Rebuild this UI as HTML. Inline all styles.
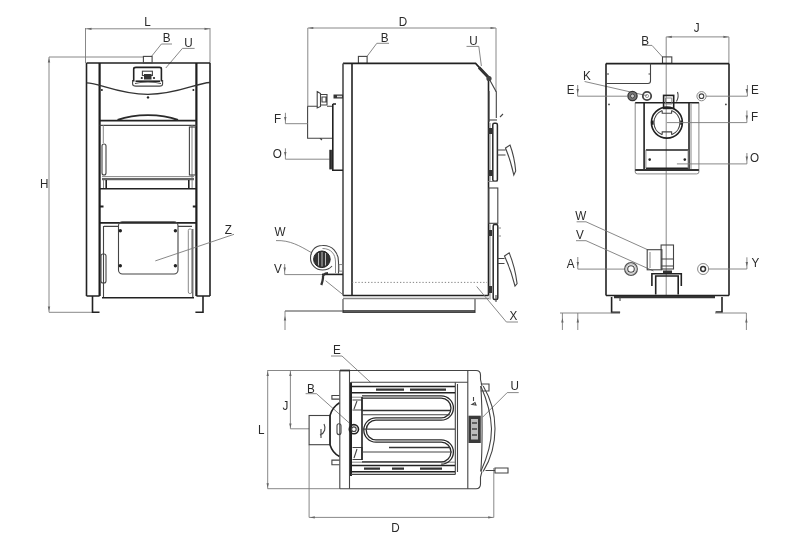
<!DOCTYPE html>
<html><head><meta charset="utf-8"><style>
html,body{margin:0;padding:0;background:#fff;width:800px;height:549px;overflow:hidden}
svg{display:block;filter:blur(0.35px)}
text{font-family:"Liberation Sans",sans-serif;font-size:13px;fill:#2a2a2a;text-anchor:middle;dominant-baseline:central}
.k{stroke:#222;stroke-width:1.6;fill:none}
.m{stroke:#444;stroke-width:1.1;fill:none}
.g{stroke:#7a7a7a;stroke-width:0.9;fill:none}
.d{stroke:#666;stroke-width:0.9;fill:none}
</style></head><body>
<svg width="800" height="549" viewBox="0 0 800 549">
<!-- ============ FRONT VIEW ============ -->
<g id="front">
<!-- dims -->
<path class="g" d="M85.5,28.8H210M85.5,28V63M210,28V63"/>
<text transform="translate(147.5,22) scale(0.9,1)">L</text>
<path class="g" d="M49,57H143M49,57V312.3H92"/>
<text transform="translate(44.3,184) scale(0.9,1)">H</text>
<path class="g" d="M151,57L161.4,44H172M165.8,68L182.4,48.4H194.6"/>
<text transform="translate(166.6,37.5) scale(0.9,1)">B</text>
<text transform="translate(188.5,42.5) scale(0.9,1)">U</text>
<!-- body -->
<path class="k" d="M86.5,63H210M86.5,63V296M210,63V296M86.5,296H99.6M196.4,296H210"/><path d="M99.6,63V296M196.4,63V296" stroke="#1e1e1e" stroke-width="2.2" fill="none"/>
<rect class="m" x="143.4" y="56.4" width="8.7" height="6.6"/>
<path d="M86.5,82.8C100,83 118,94.3 148,94.3C178,94.3 196,83 210,82.5" stroke="#333" stroke-width="1.3" fill="none"/>
<path class="m" d="M132.6,80V84Q132.6,86.1 136,86.1H159.5Q162.6,86.1 162.6,84V80"/>
<path class="k" d="M133.7,81.5V69Q133.7,67.4 136,67.4H159.5Q161.4,67.4 161.4,69V81.5"/>
<path class="k" d="M135.5,81.2H160" />
<path class="m" d="M135,83.5Q148,80.5 161,83.5"/>
<rect class="m" x="142.4" y="71.2" width="10" height="4.3"/>
<path d="M144,74V79.5H151.5V74" fill="#333" stroke="none"/>
<circle cx="141.8" cy="78" r="1.1" fill="#222"/><circle cx="154" cy="78" r="1.1" fill="#222"/>
<!-- upper door -->
<path class="k" d="M99.6,120.6H196.4"/>
<path class="m" d="M99.6,125.4H196.4"/><path d="M117.6,120C135,113.5 161,113.5 178,120" stroke="#2a2a2a" stroke-width="1.9" fill="none"/>
<path d="M102,179.2H194" stroke="#666" stroke-width="2.2" fill="none"/>
<path class="g" d="M102,176.6H194"/>
<path class="g" d="M103.3,125V143M192,125V178"/>
<rect class="m" x="102" y="144" width="4" height="31" rx="2"/>
<rect class="m" x="189.4" y="127" width="6" height="48"/>
<path class="k" d="M106.2,180V188.7M188.8,180V188.7"/><path class="g" d="M103.5,180V188.7M192.1,180V188.7"/>
<path class="k" d="M99.6,188.7H196.4"/>
<!-- ash door -->
<path class="k" d="M99.6,222.9H196.4"/>
<path class="m" d="M104,226.4H118.5M178,226.4H192M103.5,226V297M192.8,229V297"/><rect class="g" x="188.3" y="229" width="3.5" height="64.5" rx="1.5"/>
<rect class="m" x="118.5" y="221.7" width="59.5" height="52.3" rx="4"/>
<rect class="m" x="101" y="254" width="5" height="29" rx="2"/>
<path class="k" d="M102,297.7H194"/>
<path class="k" d="M92.5,296V312.3H99.5M203,296V312.3H195.4"/>
<g fill="#222"><circle cx="120.3" cy="230.8" r="1.7"/><circle cx="175.4" cy="230.8" r="1.7"/><circle cx="120.3" cy="265.8" r="1.7"/><circle cx="175.4" cy="265.8" r="1.7"/>
<circle cx="148" cy="97.4" r="1.2"/><circle cx="101.9" cy="90" r="1"/><circle cx="193.4" cy="90" r="1"/><rect x="100" y="205.5" width="3.5" height="2"/><rect x="192.8" y="205.5" width="3.5" height="2"/></g>
<path class="g" d="M155.3,260.9L234,234.3"/>
<text transform="translate(228.3,229.6) scale(0.9,1)">Z</text>
</g>
<!-- ============ SIDE VIEW ============ -->
<g id="side">
<path class="g" d="M307.8,28H496M307.8,28V106.4M496,28V92"/>
<text transform="translate(403,21.4) scale(0.9,1)">D</text>
<path class="g" d="M367,56.4L376.8,43.3H389M466.5,46.4H478.8L481.4,66"/>
<text transform="translate(384.6,38) scale(0.9,1)">B</text>
<text transform="translate(473.5,40.6) scale(0.9,1)">U</text>
<rect class="m" x="358.4" y="56.4" width="8.7" height="7"/>
<path class="k" d="M343,63.4H475.6L488.4,77.4M352,63.4V295.5M343,295.5H488.6M488.5,80V295.5"/><path d="M343,63.4V295.5" stroke="#555" stroke-width="1.7" fill="none"/>
<path class="m" d="M488.4,77.4L496.3,92V118M489,91V122M343,299V312.5H475V299"/><path d="M343,298.5H489" stroke="#888" stroke-width="1.4" fill="none"/><path class="k" d="M343,311H475"/>
<path d="M352,282.4H487" stroke="#777" stroke-width="0.9" stroke-dasharray="1.3,1.9" fill="none"/>
<path d="M479,67.5L490,79" stroke="#333" stroke-width="3" fill="none"/><circle cx="489" cy="78.5" r="2.6" fill="#444"/><path class="m" d="M500,117L503,114"/>
<!-- flue box -->
<path class="m" d="M307.6,106.3H317.5M327,106.3H332.8M307.6,106.3V138.3H332.8M320,138.3L322,140"/>
<path class="k" d="M332.8,104V170.2H343M332.8,104H336"/>
<path class="m" d="M317.2,91.6L320.5,93.5V106.5L317.2,108ZM320.5,94.5H327V105H320.5M322,97H326V102H322Z"/>
<path d="M333.5,96.5H343" stroke="#333" stroke-width="4" fill="none"/>
<path d="M337,96.5H342" stroke="#ddd" stroke-width="1.6" fill="none"/>
<path class="g" d="M285.4,112.8V123.7H307.8M285.4,148.3V159.2H329.7"/>
<text transform="translate(277.7,118.3) scale(0.9,1)">F</text>
<text transform="translate(277.4,153.8) scale(0.9,1)">O</text>
<path d="M330.6,149.8V169.4" stroke="#2a2a2a" stroke-width="2.6" fill="none"/>
<!-- fan -->
<path class="g" d="M276,240.6C290,240 300,246 311,252.4M284.7,264V274.6H322"/>
<text transform="translate(280,232) scale(0.9,1)">W</text>
<text transform="translate(278,268.8) scale(0.9,1)">V</text>
<path class="m" d="M322.5,245.5C314,245.5 310.5,252 310.5,258C310.5,265 316,270 322.5,270C326,270 330,268.5 332,266M322.5,245.5C332,245 338.5,252 338.5,262V273.5"/>
<path class="g" d="M322.5,248.5C331,248.5 335.5,254 335.5,262V273"/>
<circle cx="321.9" cy="259.3" r="8.3" fill="#333" stroke="#222" stroke-width="1"/>
<path d="M318.5,253V265.5M322,252V266.5M325.5,253V265.5" stroke="#ddd" stroke-width="0.8" fill="none"/>
<rect class="g" x="339" y="264.6" width="4" height="6.5"/>
<path class="k" d="M322,274.4H343"/>
<path d="M328,273.2C324,273.5 322.5,275.5 323,278C322.8,280.5 322,283 321.3,285" stroke="#333" stroke-width="2.3" fill="none"/>
<path class="g" d="M325.6,280.7L342.4,294.2"/>
<!-- right side doors -->
<path class="m" d="M488,120H497"/>
<rect x="492.8" y="123.3" width="4.6" height="58" rx="1.5" fill="none" stroke="#2a2a2a" stroke-width="1.5"/>
<path class="g" d="M490,123V181M488,181.5H497"/>
<rect x="488" y="128" width="4" height="6" fill="#333"/><rect x="488" y="170" width="4" height="6" fill="#333"/>
<path class="m" d="M497.4,150H505.5M497.4,155H505.5M505.5,148L510,145Q514.5,157 515.7,171L513.8,175Q510.5,160 505.5,148Z"/>
<rect class="m" x="488.7" y="188" width="9.1" height="35.3"/>
<rect x="493.2" y="224.4" width="4.6" height="75.2" rx="1.5" fill="none" stroke="#2a2a2a" stroke-width="1.5"/>
<path class="g" d="M490,224.4V299.6M497.8,228H501M497.8,236H501"/>
<rect x="488" y="230" width="4" height="6" fill="#333"/><rect x="488" y="286" width="4" height="7" fill="#333"/>
<path class="m" d="M497.8,258.5H504.5M497.8,263.5H504.5M504.5,256L509.2,252.9Q515,267 517.1,283.6L515,286Q511,270 504.5,256Z"/>
<path class="m" d="M496,295V302"/>
<path class="g" d="M476.7,286.5L506.4,322H518"/>
<text transform="translate(513.5,316) scale(0.9,1)">X</text>
<path class="m" d="M285,311H343"/><path class="g" d="M285,311V330"/>
</g>
<!-- ============ REAR VIEW ============ -->
<g id="rear">
<path class="g" d="M666.2,36.9H728.9M728.9,36.9V63.4M666.2,36.9V296"/>
<text transform="translate(696.6,28.2) scale(0.9,1)">J</text>
<path class="g" d="M642,45.4H652L662.5,57M584.6,81.5L646.9,95.7"/>
<text transform="translate(645.2,40.5) scale(0.9,1)">B</text>
<text transform="translate(587,75.7) scale(0.9,1)">K</text>
<rect class="m" x="662.5" y="56.9" width="9.3" height="6.5"/>
<path class="k" d="M606,63.6H729M606,63.6V295.5M729,63.6V295.5M606,295.5H729"/>
<path class="m" d="M606,83.5H648Q650.5,83.5 650.5,81V63.4M607,74H609M648.5,74H650.5"/>
<path class="g" d="M577.7,85V96.2H627M706,96.2H747.4V85"/>
<text transform="translate(570.7,90.2) scale(0.9,1)">E</text>
<text transform="translate(754.8,89.7) scale(0.9,1)">E</text>
<circle cx="632.5" cy="96" r="4.6" fill="#777" stroke="#333" stroke-width="1.3"/><circle cx="632.5" cy="96" r="2" fill="#ccc" stroke="#333" stroke-width="0.8"/>
<circle cx="647" cy="96" r="4.2" fill="none" stroke="#444" stroke-width="1.8"/><circle cx="647" cy="96" r="1.6" fill="none" stroke="#888" stroke-width="0.8"/>
<circle class="g" cx="701.5" cy="96.2" r="4.6"/><circle class="m" cx="701.5" cy="96.2" r="2.3"/>
<!-- flue frame -->
<path class="g" d="M635.2,102.7V172Q635.2,173.9 637.5,173.9H696.6Q698.9,173.9 698.9,172V102.7M691,104V169"/>
<path class="k" d="M635.2,102.7H698.9M644.1,102.7V169.7M689,102.7V169.7"/>
<path d="M635.2,169.9H698.9" stroke="#333" stroke-width="2" fill="none"/>
<path class="k" d="M645.9,150H688.1M645.9,168.3H688.1"/>
<path class="g" d="M645.9,150V168.3M688.1,150V168.3"/>
<circle class="k" cx="666.9" cy="122.6" r="15.5"/>
<path class="m" d="M662.2,110.4A13,13 0 0 0 654,122.6A13,13 0 0 0 662.2,134.8M671.6,110.4A13,13 0 0 1 679.9,122.6A13,13 0 0 1 671.6,134.8M662.2,110.4V113.3H671.6V110.4M662.2,134.8V131.9H671.6V134.8"/>
<path d="M652.5,120.5V124.7M681.3,120.5V124.7" stroke="#222" stroke-width="2.2" fill="none"/>
<rect class="k" x="663.6" y="95.4" width="10.1" height="13"/>
<path class="g" d="M665.5,98H671.8V104H665.5Z"/>
<path class="m" d="M677.5,92C678.5,95 678.5,98 676.5,101.5"/>
<circle cx="649.7" cy="159.6" r="1.3" fill="#222"/><circle cx="684.8" cy="159.6" r="1.3" fill="#222"/>
<circle cx="725.9" cy="104.4" r="0.9" fill="#444"/><circle cx="609" cy="104.4" r="0.9" fill="#444"/>
<path class="g" d="M666.9,122.6H746.9V110.5M676.9,163.9H746.9V153"/>
<text transform="translate(754.6,117) scale(0.9,1)">F</text>
<text transform="translate(754.6,158) scale(0.9,1)">O</text>
<!-- lower -->
<path class="g" d="M576.6,221.8H586L647.6,249.7M576,240.7H586L653.5,271M577.8,257V269.1H624.5M708.6,269H746.9V257.3"/>
<text transform="translate(580.8,215.4) scale(0.9,1)">W</text>
<text transform="translate(580,234.3) scale(0.9,1)">V</text>
<text transform="translate(570.7,263.4) scale(0.9,1)">A</text>
<text transform="translate(755.5,263.2) scale(0.9,1)">Y</text>
<circle cx="631" cy="269" r="6.3" fill="none" stroke="#555" stroke-width="1.3"/><circle cx="631" cy="269" r="5" fill="none" stroke="#aaa" stroke-width="0.8"/><circle class="m" cx="631" cy="269" r="3.3"/>
<circle class="g" cx="703.1" cy="269" r="5.5"/><circle cx="703.1" cy="269" r="2.4" fill="none" stroke="#333" stroke-width="1.5"/>
<rect class="m" x="647.2" y="249.7" width="14.7" height="20.1"/>
<path class="g" d="M650,252V268"/>
<rect class="m" x="661.1" y="245" width="12.4" height="24"/>
<path class="m" d="M661.1,259H673.5M661.1,266H673.5"/>
<path d="M663,272H672" stroke="#333" stroke-width="3" fill="none"/>
<path class="k" d="M651.9,286V273.7H681.3V286"/>
<path class="k" d="M655.7,294.6V276H678.2V294.6"/>
<path d="M614,297H715" stroke="#333" stroke-width="2.6" fill="none"/>
<path class="m" d="M620,297V301"/>
<path class="k" d="M611.6,297V312.4H620.1M722,297V312H715.6"/>
<path class="g" d="M560,313H620M715,313H746.4M562.4,313V330M577.8,313V330M746.4,313V330"/>
</g>
<!-- ============ TOP VIEW ============ -->
<g id="top">
<path class="g" d="M267.7,370.5V488.7M267.3,370.5H340M267.6,488.7H340M290.4,370.5V428.8H309.1M309.1,444.7V517.4H493.8M493.8,468V517.4"/>
<text transform="translate(261.3,429.3) scale(0.9,1)">L</text>
<text transform="translate(285.5,405.6) scale(0.9,1)">J</text>
<text transform="translate(395.6,528.1) scale(0.9,1)">D</text>
<path class="g" d="M331,356H342L370.7,382.5M305.6,393.7H316.5L350.2,423.8M507.2,392.6H518.7M507.2,392.6L482.6,417.2"/>
<text transform="translate(337,350) scale(0.9,1)">E</text>
<text transform="translate(311,388.3) scale(0.9,1)">B</text>
<text transform="translate(514.8,386) scale(0.9,1)">U</text>
<rect class="m" x="309.1" y="415.5" width="21" height="29.2"/>
<path class="k" d="M330,415.5Q332.5,407 339.5,402.8M330,444.7Q332.5,453 339.5,456.5M330,415.5V444.7"/>
<path class="m" d="M339.5,395.5H331.9V399.1H339.5M339.5,460.1H331.9V464.7H339.5"/>
<path class="m" d="M324,424C326,428 325,433 320,435M321,429V438"/>
<rect class="m" x="337" y="423.7" width="4" height="10.9" rx="2"/>
<!-- body -->
<path class="m" d="M340,370.5H476Q480.5,370.5 480.5,375V379.5L482,386M340,488.7H476Q480.5,488.7 480.5,484V477L482,471.4"/>
<path class="m" d="M339.8,370.5V488.7"/>
<path class="m" d="M349.5,370.5V488.7"/>
<path d="M340,370.5H350" stroke="#333" stroke-width="1.8"/>
<path d="M351,382.3V476" stroke="#222" stroke-width="2" fill="none"/>
<path class="m" d="M467.8,370.5V488.7M455.3,382.3V474.5M457.5,384V472"/>
<path class="m" d="M351,382.3H467.8M351,474.4H455.3"/>
<path class="k" d="M352,386.5H455M352,392.7H455M352,465.5H455M352,471.8H455"/>
<path class="g" d="M352,397.2H362M352,462.2H455"/>
<path d="M376,389.6H404M410,389.6H446M364,468.6H380M392,468.6H404M420,468.6H442" stroke="#333" stroke-width="2.4" fill="none"/>

<path class="m" d="M352.5,400H362V410H352.5M352.5,447.5H362V459.5H352.5M354,409L357,401M354,458L357,449"/>
<path class="k" d="M362,397V460"/>
<circle class="k" cx="353.9" cy="429.2" r="4.6"/><circle class="m" cx="353.9" cy="429.2" r="2.3"/>
<!-- coil -->
<g fill="none" stroke="#2a2a2a" stroke-width="1.3">
<path d="M362,395.8H441.2A12.2,12.2 0 0 1 441.2,420.2H376A9.8,9.8 0 0 0 376,439.8H441.2A12.2,12.2 0 0 1 441.2,464.2"/>
<path d="M362,398.2H441.2A9.8,9.8 0 0 1 441.2,417.8H376A12.2,12.2 0 0 0 376,442.2H441.2A9.8,9.8 0 0 1 441.2,461.8H362"/>
</g>
<path d="M362,410.6H450M389,447.5H450" stroke="#333" stroke-width="1.5" fill="none"/><path class="m" d="M362,429.1H455M362,414.8H450M362,452H452"/>
<!-- front -->
<path class="m" d="M483.2,386C491.5,400 495,415 495,428.7C495,442 491.5,458 483.2,471.4M480.8,386C487,400 491,415 491.5,428.7C491.5,442 487,458 480.8,471.4M480.8,384H489V391H480.8"/>
<path class="m" d="M480.8,386C482.5,410 482.5,450 480.8,471.4"/>
<rect x="468.5" y="415.7" width="12.3" height="27.3" fill="#3a3a3a"/>
<rect x="471" y="419" width="7" height="20.5" fill="#bbb"/>
<path d="M472,423H477M472,429H477M472,435H477" stroke="#444" stroke-width="1.5"/>
<path class="m" d="M473.5,397V401M472,404.5L475,402.5L476,405Z"/>
<path class="m" d="M485.5,470.5H495M495,468H508V473H495Z"/>
</g>
<path fill="#666" stroke="none" d="M284.1,117.0L286.5,117.0L285.3,121.5ZM284.1,152.0L286.5,152.0L285.3,156.5ZM283.5,267.5L285.9,267.5L284.7,272ZM283.8,320.5L286.2,320.5L285,316ZM576.5,89.0L578.9000000000001,89.0L577.7,93.5ZM745.5999999999999,89.0L748.0,89.0L746.8,93.5ZM745.5999999999999,115.5L748.0,115.5L746.8,120ZM745.5999999999999,156.5L748.0,156.5L746.8,161ZM576.5999999999999,262.0L579.0,262.0L577.8,266.5ZM745.5999999999999,262.0L748.0,262.0L746.8,266.5ZM561.1999999999999,322.5L563.6,322.5L562.4,318ZM576.5999999999999,322.5L579.0,322.5L577.8,318ZM745.1999999999999,322.5L747.6,322.5L746.4,318ZM91.5,27.7L91.5,29.900000000000002L86.5,28.8ZM204.5,27.7L204.5,29.900000000000002L209.5,28.8ZM47.8,62.5L50.2,62.5L49,58ZM47.8,306.5L50.2,306.5L49,311ZM313.3,26.9L313.3,29.1L308.3,28ZM490.5,26.9L490.5,29.1L495.5,28ZM671.8,35.8L671.8,38.0L666.8,36.9ZM723.4,35.8L723.4,38.0L728.4,36.9ZM266.5,376.0L268.9,376.0L267.7,371.5ZM266.5,483.2L268.9,483.2L267.7,487.7ZM289.2,376.0L291.59999999999997,376.0L290.4,371.5ZM289.2,423.5L291.59999999999997,423.5L290.4,428ZM314.8,516.3L314.8,518.5L309.8,517.4ZM488.2,516.3L488.2,518.5L493.2,517.4Z"/>
</svg>
</body></html>
